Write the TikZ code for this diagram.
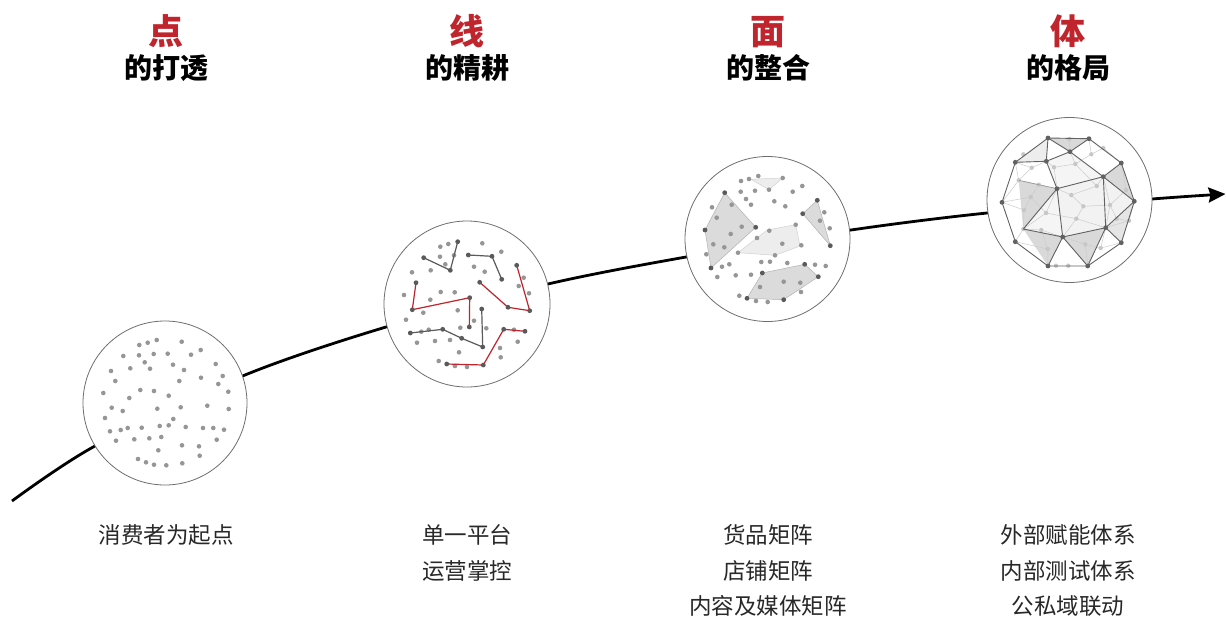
\documentclass[tikz,border=0pt]{standalone}
\usepackage{fontspec}
\newfontfamily\cjk{Noto Sans CJK SC}
\usetikzlibrary{arrows.meta}
\definecolor{accent}{RGB}{192,36,44}
\definecolor{dotc}{RGB}{150,150,150}
\definecolor{dotdark}{RGB}{90,90,90}
\definecolor{rim}{RGB}{110,110,110}
\definecolor{txt}{RGB}{40,40,40}
\tikzset{
  ball/.style={draw=rim,line width=0.8pt,fill=white},
  headbig/.style={anchor=base,text=accent,font=\cjk\bfseries\fontsize{35}{35}\selectfont},
  headsub/.style={anchor=base,text=black,font=\cjk\bfseries\fontsize{28}{28}\selectfont},
  caption/.style={anchor=base,text=txt,font=\cjk\fontsize{22.5}{22.5}\selectfont},
  darkseg/.style={draw=dotdark,line width=1.2pt,line join=round},
  redseg/.style={draw=accent,line width=1.2pt,line join=round},
  facedark/.style={fill=black!14,draw=black!30,line width=0.5pt},
  facelight/.style={fill=black!7,draw=black!18,line width=0.5pt},
  mesh/.style={draw=black!20,line width=0.5pt},
  edge/.style={draw=black!62,line width=0.9pt,line join=round},
}
\begin{document}
\begin{tikzpicture}[x=1pt,y=-1pt]
\useasboundingbox[fill=white] (0,0) rectangle (1226,616);

% growth curve
\draw[line width=2.8pt,-{Stealth[length=17pt,width=15pt,inset=2pt]}]
  plot[smooth,tension=0.5] coordinates {(12,501) (95,446) (245,375) (386,327) (548,284) (686,257) (851,230) (987,213) (1152,199) (1225.5,194)};

% ---------- circle 1: scattered points
\node[ball,circle,minimum size=164pt,inner sep=0pt] (c1) at (165,403) {};
\foreach \x/\y in {139.3/345,147.7/342.7,156.7/340,181.7/341.7,123.3/356,139/355.3,153.7/354,167.7/353.7,191/354.7,200.7/350,
  144.7/362.3,150/368.7,130.3/368.3,173/364.7,184/370,215.7/364,111/371,115.3/381,179.3/381,201/377.7,222.7/376,218.3/384,
  103.3/393,140.3/390,154/391,168.7/395.7,129.3/398,228.3/391.7,111.7/407.7,122.7/411,157.3/408.7,180.7/407.3,207.3/405.7,
  228.7/409,105/418,173.3/419,110/431.3,120.7/430,127.7/428,141.7/427.7,159.7/426,168.7/425.3,185.7/427,203/428,213.3/428,
  224/429.7,116/440.7,134.3/439.3,149.3/438.3,161.3/437,216.7/439.7,158.3/450.3,182/445.3,199/446.3,199.7/455.7,138/459,
  146/462.3,154/464.7,166.3/465.3,182.3/463.3}
  \fill[dotc] (\x,\y) circle (2.3pt);

% ---------- circle 2: points joined into lines
\node[ball,circle,minimum size=166pt,inner sep=0pt] (c2) at (467,304) {};
\foreach \x/\y in {440.3/246.7,448.3/244,440/256.7,454/255.3,445.3/264.3,430.7/270.3,412/272.3,482.3/243.3,501.3/251.7,
  474/266.7,484.7/271.7,523.7/277.7,518.7/286,529/293.3,404/295,440.7/292,454.7/292.3,430.3/299.7,423.3/312.7,457.7/310.3,
  406/319.7,474/320.7,460.3/327.7,486.3/328.3,421.3/331.7,428.7/329.7,417/342.7,435/341,450/340,459/352.3,500/348,517.7/341.7,
  500.7/357.3,438.7/361,455/366,467/367,514/329.7}
  \fill[dotc] (\x,\y) circle (2.3pt);
\draw[darkseg] (423.7,257.7) -- (450.3,270.3) -- (457.7,241.7);
\draw[darkseg] (468.3,255) -- (492,256.3) -- (501.7,279.3);
\draw[darkseg] (481.7,309) -- (482.7,347) -- (461.7,338.3) -- (442.7,329.3) -- (410.3,333);
\draw[redseg] (416,282.7) -- (412.3,309.7) -- (469.7,297.7) -- (469.3,327);
\draw[redseg] (479.7,282.3) -- (508,307.3) -- (529.7,310.7) -- (516.7,265.3);
\draw[redseg] (446.7,364) -- (483.3,365) -- (503.7,329.3) -- (525,331.3);
\foreach \x/\y in {423.7/257.7,450.3/270.3,457.7/241.7,468.3/255,492/256.3,501.7/279.3,
  481.7/309,482.7/347,461.7/338.3,442.7/329.3,410.3/333,416/282.7,412.3/309.7,469.7/297.7,469.3/327,
  479.7/282.3,508/307.3,529.7/310.7,516.7/265.3,446.7/364,483.3/365,503.7/329.3,525/331.3}
  \fill[dotdark] (\x,\y) circle (2.4pt);

% ---------- circle 3: points grouped into faces
\node[ball,circle,minimum size=165pt,inner sep=0pt] (c3) at (767.5,239) {};
\path[facelight] (751,179.3) -- (782.7,178) -- (769,189.7) -- cycle;
\path[facelight] (738,252.7) -- (767.3,230) -- (795.7,224.7) -- (800,246) -- (775,255.3) -- cycle;
\path[facedark] (724.7,192.7) -- (755.7,227.3) -- (711,268) -- (705,230) -- cycle;
\path[facedark] (802.7,213.7) -- (817.3,200.3) -- (830.3,245.7) -- cycle;
\path[facedark] (762.3,273) -- (804.7,264.3) -- (818.3,276.7) -- (783.7,299.7) -- (747,298.3) -- cycle;
\foreach \x/\y in {741/181,749/179,758.3/176,740.7/191.7,755/190.7,792.7/191.7,802.3/186,746/199,751/204.7,774.3/201.3,
  785.3/206.3,712/207.3,731.7/204.7,716.7/217.7,741.7/226.7,730.7/234,824.3/212.3,820/220.7,829.7/228.3,769.3/230.7,
  757/238,782.3/243.7,801.3/245.3,713.3/244.3,724.3/247.3,706.3/254.3,722/266.7,729.3/264.3,761.3/262,770/261.7,787.3/263,
  815/264.7,825.7/266,717.3/277,735.7/275.3,751/274.7,760/287,783.7/281.7,800.3/282.7,801/292,739.3/295.7,756/301,767.7/302,
  782.7/178,769/189.7,738/252.7,795.7/224.7,775/255.3}
  \fill[dotc] (\x,\y) circle (2.3pt);
\foreach \x/\y in {724.7/192.7,755.7/227.3,711/268,705/230,802.7/213.7,817.3/200.3,830.3/245.7,
  762.3/273,804.7/264.3,818.3/276.7,783.7/299.7,747/298.3}
  \fill[dotdark] (\x,\y) circle (2.4pt);

% ---------- circle 4: geodesic solid
\node[ball,circle,minimum size=165pt,inner sep=0pt] (c4) at (1069.5,200) {};
\coordinate (A) at (1048,138);
\coordinate (B) at (1089,138.7);
\coordinate (C) at (1070,151.7);
\coordinate (D) at (1046.3,161.3);
\coordinate (E) at (1015.3,162.3);
\coordinate (F) at (1121.3,163);
\coordinate (G) at (1103.3,176.7);
\coordinate (H) at (1057,188.7);
\coordinate (I) at (1002,202.3);
\coordinate (J) at (1134.3,201.3);
\coordinate (K) at (1105.7,227.7);
\coordinate (L) at (1062.7,237);
\coordinate (M) at (1015.3,241.7);
\coordinate (N) at (1121.3,242.7);
\coordinate (O) at (1048,266);
\coordinate (P) at (1087.7,266);
\coordinate (Q) at (1018.7,180.3);
\coordinate (R) at (1023.3,229);
% faces
\fill[black!4] (D) -- (C) -- (G) -- (H) -- cycle;
\fill[black!5] (H) -- (G) -- (K) -- (L) -- cycle;
\fill[black!5] (G) -- (J) -- (K) -- cycle;
\fill[black!4] (R) -- (H) -- (L) -- cycle;
\fill[black!7] (E) -- (A) -- (D) -- cycle;
\fill[black!15] (A) -- (B) -- (C) -- cycle;
\fill[black!15] (Q) -- (H) -- (R) -- cycle;
\fill[black!15] (G) -- (F) -- (J) -- cycle;
\fill[black!10] (K) -- (J) -- (N) -- cycle;
\fill[black!15] (R) -- (L) -- (O) -- cycle;
\fill[black!15] (L) -- (K) -- (P) -- cycle;
% inner mesh
\coordinate (m1) at (1031.7,167.7);
\coordinate (m2) at (1054,167.3);
\coordinate (m3) at (1075.3,164);
\coordinate (m4) at (1091.3,154.3);
\coordinate (m5) at (1103.3,148);
\coordinate (m6) at (1038.7,184.7);
\coordinate (m7) at (1030.7,197);
\coordinate (m8) at (1071.3,195);
\coordinate (m9) at (1096.7,186);
\coordinate (m10) at (1110,205);
\coordinate (m11) at (1083.3,206.3);
\coordinate (m12) at (1046,213);
\coordinate (m13) at (1024,210);
\coordinate (m14) at (1076.3,218.7);
\coordinate (m15) at (1041.3,230);
\coordinate (m16) at (1047.7,249);
\coordinate (m17) at (1085.3,244.3);
\coordinate (m18) at (1100.7,248);
\coordinate (m19) at (1126,190);
\coordinate (m20) at (1116.7,218.7);
\coordinate (m21) at (1129,220.7);
\coordinate (m22) at (1069.3,139);
\draw[mesh] (m1) -- (D) (m1) -- (Q) (m1) -- (E)
  (m2) -- (D) (m2) -- (H) (m2) -- (m3) (m3) -- (C) (m3) -- (m4) (m3) -- (m9)
  (m4) -- (B) (m4) -- (m5) (m5) -- (F)
  (m6) -- (Q) (m6) -- (H) (m6) -- (m7) (m7) -- (I) (m7) -- (m13) (m7) -- (m12)
  (m8) -- (H) (m8) -- (m11) (m8) -- (m9) (m9) -- (G)
  (m10) -- (G) (m10) -- (m19) (m10) -- (m20) (m10) -- (K) (m11) -- (m14) (m11) -- (m10)
  (m12) -- (H) (m12) -- (m14) (m12) -- (R) (m14) -- (K) (m14) -- (L)
  (m13) -- (I) (m13) -- (R) (m15) -- (R) (m15) -- (L) (m15) -- (m16)
  (m16) -- (O) (m16) -- (M) (m17) -- (L) (m17) -- (P) (m17) -- (m18)
  (m18) -- (K) (m18) -- (N) (m19) -- (J) (m19) -- (F) (m21) -- (J) (m21) -- (K) (m20) -- (m21)
  (m22) -- (C) (Q) -- (E) (Q) -- (I) (R) -- (M);
\foreach \p in {m1,m2,m3,m4,m5,m6,m7,m8,m9,m10,m11,m12,m13,m14,m15,m16,m17,m18,m19,m20,m21,m22,Q,R}
  \fill[black!22] (\p) circle (2.2pt);
\fill[black!22] (1056,265.7) circle (2.2pt) (1068.3,265.7) circle (2.2pt) (1023.3,154.3) circle (2.2pt);
% main edges
\draw[edge] (A) -- (B) -- (F) -- (J) -- (N) -- (P) -- (O) -- (M) -- (I) -- (E) -- cycle;
\draw[edge] (A) -- (C) -- (B) (C) -- (D) -- (A) (E) -- (D) -- (H)
  (C) -- (G) -- (F) (G) -- (J) (H) -- (G) -- (K) (H) -- (L) -- (K)
  (K) -- (J) (K) -- (N) (K) -- (P) (L) -- (P) (L) -- (O) (H) -- (R) (L) -- (R);
\draw[draw=black!40,line width=0.7pt] (Q) -- (H);
\foreach \p in {A,B,C,D,E,F,G,H,I,J,K,L,M,N,O,P}
  \fill[black!62] (\p) circle (2.4pt);

% ---------- headings
\node[headbig] (h1) at (166,44) {点};
\node[headsub] (s1) at (166,78.5) {的打透};
\node[headbig] (h2) at (467,44) {线};
\node[headsub] (s2) at (467,78.5) {的精耕};
\node[headbig] (h3) at (768,44) {面};
\node[headsub] (s3) at (768,78.5) {的整合};
\node[headbig] (h4) at (1068,44) {体};
\node[headsub] (s4) at (1068,78.5) {的格局};

% ---------- captions
\node[caption] (t1) at (166,543.5) {消费者为起点};
\node[caption] (t2a) at (467,543.5) {单一平台};
\node[caption] (t2b) at (467,579) {运营掌控};
\node[caption] (t3a) at (768,543.5) {货品矩阵};
\node[caption] (t3b) at (768,579) {店铺矩阵};
\node[caption] (t3c) at (768,614) {内容及媒体矩阵};
\node[caption] (t4a) at (1068,543.5) {外部赋能体系};
\node[caption] (t4b) at (1068,579) {内部测试体系};
\node[caption] (t4c) at (1068,614) {公私域联动};
\end{tikzpicture}
\end{document}
